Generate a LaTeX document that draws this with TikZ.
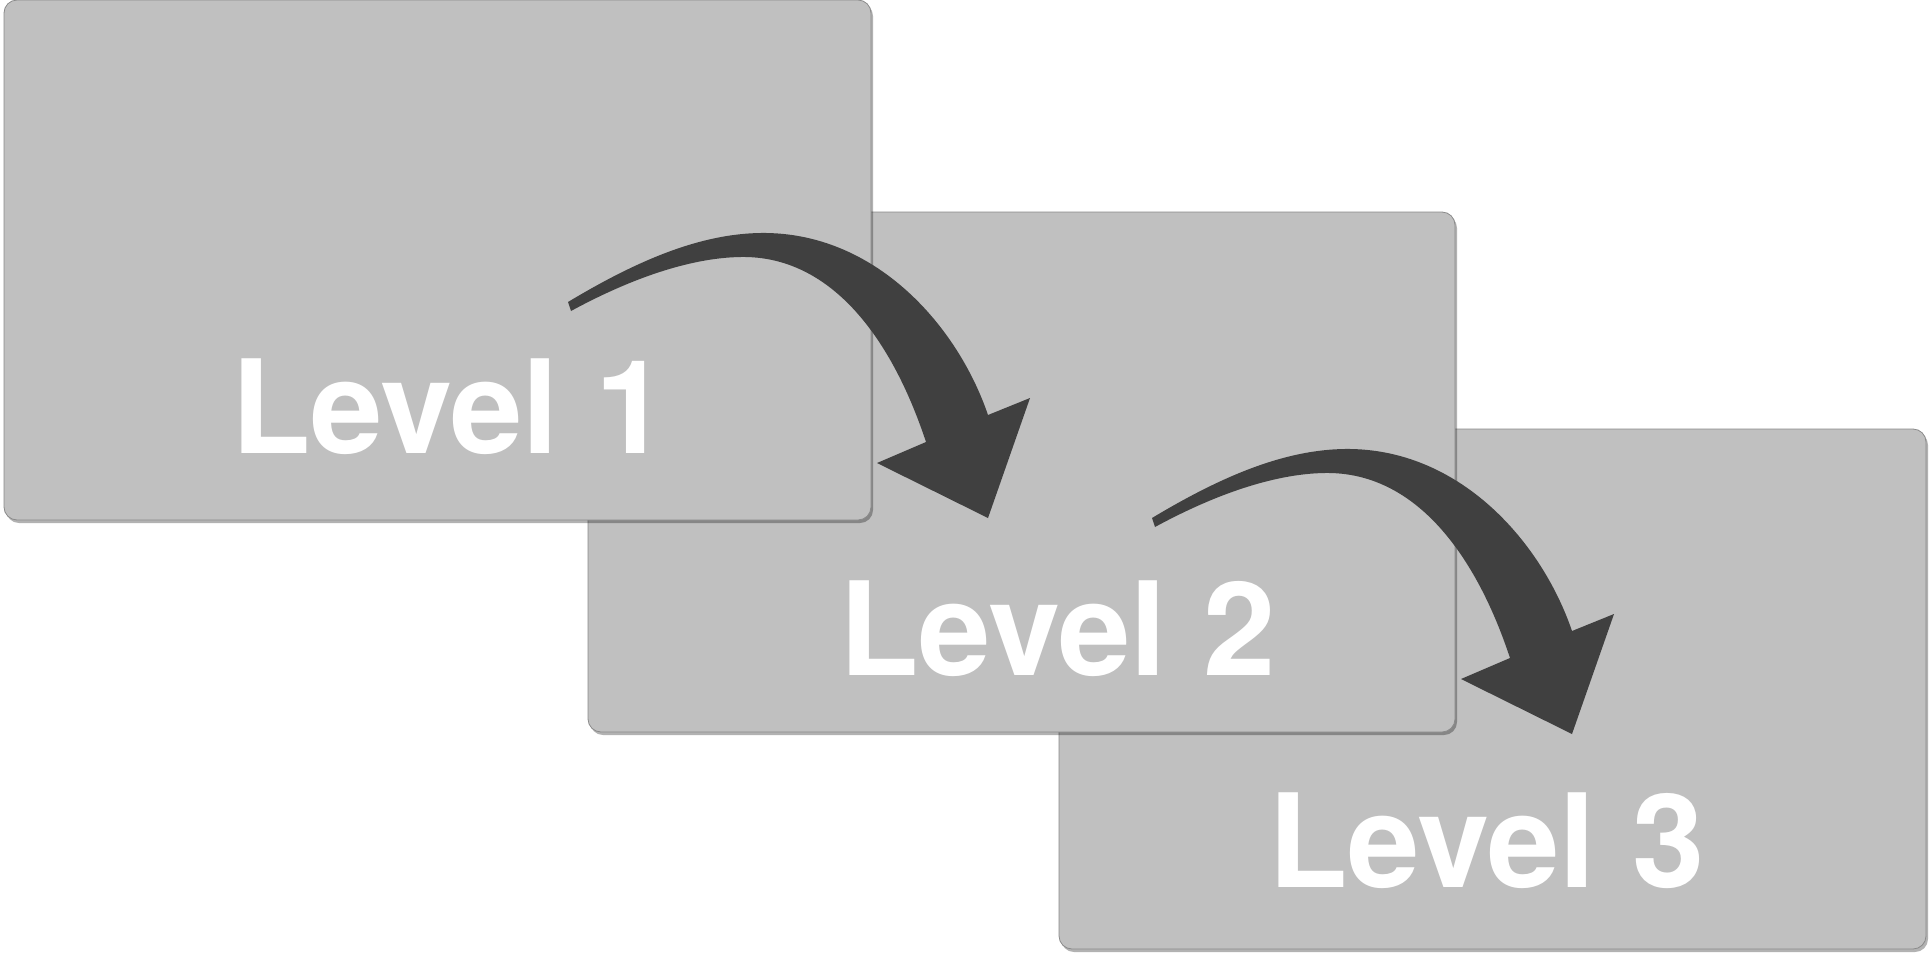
\documentclass[tikz,border=0pt]{standalone}
\usepackage{fontspec}
\setmainfont{TeX Gyre Heros}
\usetikzlibrary{shadows}
\definecolor{boxgray}{HTML}{C0C0C0}
\definecolor{arrowgray}{HTML}{404040}
\definecolor{edgegray}{HTML}{8A8A8A}

\begin{document}
\begin{tikzpicture}[x=1pt,y=-1pt,
    level box/.style={rectangle,rounded corners=13pt,draw=edgegray,line width=0.8pt,fill=boxgray,minimum width=867pt,minimum height=520pt,inner sep=0pt,outer sep=0pt,anchor=north west,drop shadow={shadow xshift=2pt,shadow yshift=-3pt,opacity=0.3,fill=black}},
    level text/.style={anchor=base west,text=white,inner sep=0pt,font=\fontsize{130}{140}\selectfont\bfseries},
    pics/bend arrow/.style={code={
        \fill[arrowgray] (0,0) .. controls (70,-42) and (135,-70) .. (199,-69)
            .. controls (310,-67) and (390,25) .. (420,113) -- (462,96) -- (420,216)
            -- (309,161) -- (358,140) .. controls (325,40) and (265,-47) .. (172,-45)
            .. controls (120,-44) and (60,-22) .. (3,9) -- cycle;
    }}]
    \useasboundingbox (0,0) rectangle (1931,959);

    % the three stacked cards, back to front
    \node[level box] (box3) at (1059,429) {};
    \node[level box] (box2) at (588,212) {};
    \node[level box] (box1) at (4,0) {};

    \node[level text] (lvl1) at (231,453) {Level 1};
    \node[level text] (lvl2) at (839,675) {Level 2};
    \node[level text] (lvl3) at (1268,887) {Level 3};

    % arrows from one card to the next
    \pic (arr12) at (568,302) {bend arrow};
    \pic (arr23) at (1152,518) {bend arrow};
\end{tikzpicture}
\end{document}
